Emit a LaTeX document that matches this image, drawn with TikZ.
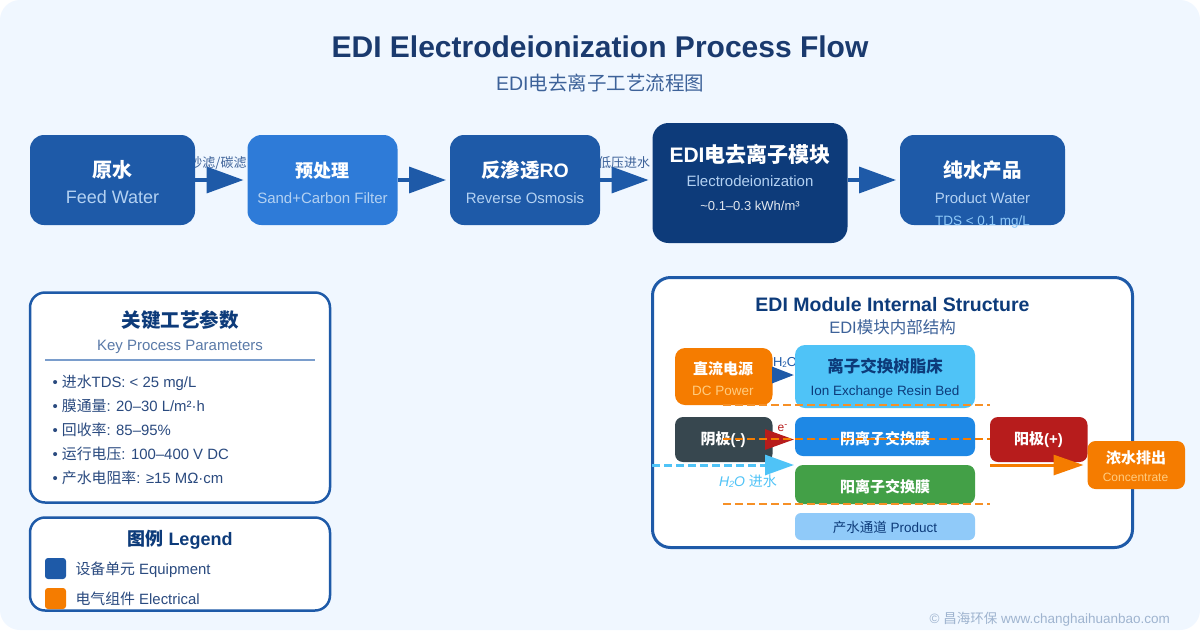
\documentclass[tikz,border=0pt]{standalone}
\usepackage{fontspec}
\usetikzlibrary{arrows.meta}
\setmainfont{Liberation Sans}
\newfontfamily\cjk{Noto Sans CJK SC}
\newcommand{\cn}[1]{{\cjk #1}}
\newcommand{\fs}[1]{\fontsize{#1}{#1}\selectfont}
\newcounter{txc}
% \tx[style]{x}{y}{size}{text}
\newcommand{\tx}[5][]{\stepcounter{txc}\node[lab,#1,name=t\arabic{txc}] at (#2,#3) {\fs{#4}#5};}
% \bx{name}{cx}{cy}{w}{h}{r}{colour}
\newcommand{\bx}[7]{\node[boxn,minimum width=#4pt,minimum height=#5pt,rounded corners=#6pt,fill=#7] (#1) at (#2,#3) {};}
\definecolor{bg}{HTML}{F0F7FF}
\definecolor{cmain}{HTML}{1E5AA8}
\definecolor{cmid}{HTML}{2E7BD8}
\definecolor{cdark}{HTML}{0D3B7A}
\definecolor{ctitle}{HTML}{1A3A6E}
\definecolor{csub}{HTML}{3D6299}
\definecolor{clight}{HTML}{B3D1F2}
\definecolor{corange}{HTML}{F57C00}
\definecolor{csky}{HTML}{4FC3F7}
\definecolor{cred}{HTML}{B71C1C}
\definecolor{cslate}{HTML}{37474F}
\definecolor{cblue}{HTML}{1E88E5}
\definecolor{cgreen}{HTML}{43A047}
\definecolor{cpale}{HTML}{90CAF9}
\definecolor{cpeach}{HTML}{FFCC80}
\definecolor{ctext}{HTML}{2A4A7F}
\definecolor{cfoot}{HTML}{9FB4CF}
\definecolor{crule}{HTML}{7A9DCC}
\tikzset{
  lab/.style={inner sep=0pt,outer sep=0pt,anchor=base,align=center},
  left lab/.style={anchor=base west},
  right lab/.style={anchor=base east},
  boxn/.style={inner sep=0pt,outer sep=0pt,draw=none},
  panel/.style={fill=white,draw=cmain,line width=2.5pt,rounded corners=15pt},
  flow/.style={draw=cmain,line width=3.5pt,-{Triangle[length=37pt,width=26pt]},shorten >=4pt},
  dcarrow/.style={draw=cmain,line width=3pt,-{Triangle[length=22pt,width=16pt]}},
  redarrow/.style={draw=cred,line width=3pt,-{Triangle[length=29pt,width=20pt]}},
  feedarrow/.style={draw=csky,line width=3pt,dash pattern=on 8pt off 4pt,-{Triangle[length=29pt,width=20pt]}},
  concarrow/.style={draw=corange,line width=3pt,-{Triangle[length=30pt,width=20pt]},shorten >=4pt},
  cdash/.style={draw=corange!85!white,line width=1.5pt,dash pattern=on 8pt off 4pt},
  cdash mid/.style={cdash,draw=corange,line width=2pt},
}
\begin{document}
\begin{tikzpicture}[x=1pt,y=-1pt]
\useasboundingbox (0,0) rectangle (1200,630);
\fill[white] (0,0) rectangle (1200,630);
\fill[bg,rounded corners=20pt] (0,0) rectangle (1200,630);
% titles
\tx[text=ctitle,font=\bfseries]{600}{57}{30}{EDI Electrodeionization Process Flow}
\tx[text=csub]{600}{90}{19.5}{EDI\cn{电去离子工艺流程图}}
% labels behind the boxes
\tx[text=csub]{218}{167.5}{13}{\cn{砂滤/碳滤}}
\tx[text=csub]{624}{167.5}{13}{\cn{低压进水}}
% process boxes
\bx{feed}{112.5}{180}{165}{90}{14}{cmain}
\bx{pre}{322.5}{180}{150}{90}{14}{cmid}
\bx{ro}{525}{180}{150}{90}{14}{cmain}
\bx{edi}{750}{183}{195}{120}{16}{cdark}
\bx{prod}{982.5}{180}{165}{90}{14}{cmain}
\tx[text=white,font=\bfseries]{112.5}{177}{20}{\cn{原水}}
\tx[text=clight]{112.5}{203}{18}{Feed Water}
\tx[text=white,font=\bfseries]{322.5}{177}{18}{\cn{预处理}}
\tx[text=clight]{322.5}{203}{15}{Sand+Carbon Filter}
\tx[text=white,font=\bfseries]{525}{177}{19.5}{\cn{反渗透}RO}
\tx[text=clight]{525}{203}{15}{Reverse Osmosis}
\tx[text=white,font=\bfseries]{750}{162}{21}{EDI\cn{电去离子模块}}
\tx[text=clight]{750}{186.5}{15}{Electrodeionization}
\tx[text=white!88!cdark]{750}{210}{13}{\textasciitilde 0.1–0.3 kWh/m³}
\tx[text=white,font=\bfseries]{982.5}{177}{19.5}{\cn{纯水产品}}
\tx[text=clight]{982.5}{203}{15}{Product Water}
\tx[text=cpale]{982.5}{225}{13.5}{TDS < 0.1 mg/L}
% flow arrows
\draw[flow] (feed.east) -- (pre.west);
\draw[flow] (pre.east) -- (ro.west);
\draw[flow] (ro.east) -- ([yshift=3pt]edi.west);
\draw[flow] ([yshift=3pt]edi.east) -- (prod.west);
% parameters panel
\node[boxn,panel,minimum width=300pt,minimum height=210pt] (params) at (180,397.5) {};
\tx[text=cdark,font=\bfseries]{180}{327}{19.5}{\cn{关键工艺参数}}
\tx[text=csub!85!white]{180}{350}{15}{Key Process Parameters}
\coordinate (ruleL) at (45,360);
\coordinate (ruleR) at (315,360);
\draw[crule,line width=2pt] (ruleL) -- (ruleR);
\tx[left lab,text=ctext]{52.5}{387}{14.9}{• \cn{进水}TDS: < 25 mg/L}
\tx[left lab,text=ctext]{52.5}{411}{14.9}{• \cn{膜通量}: 20–30 L/m²·h}
\tx[left lab,text=ctext]{52.5}{435}{14.9}{• \cn{回收率}: 85–95\%}
\tx[left lab,text=ctext]{52.5}{459}{14.9}{• \cn{运行电压}: 100–400 V DC}
\tx[left lab,text=ctext]{52.5}{483}{14.9}{• \cn{产水电阻率}: ≥15 MΩ·cm}
% legend panel
\node[boxn,panel,minimum width=300pt,minimum height=93pt] (legend) at (180,564) {};
\tx[text=cdark,font=\bfseries]{180}{545}{18}{\cn{图例} Legend}
\bx{swA}{55.5}{568.5}{21}{21}{3}{cmain}
\bx{swB}{55.5}{598.5}{21}{21}{3}{corange}
\tx[left lab,text=ctext]{75.5}{574}{14.9}{\cn{设备单元} Equipment}
\tx[left lab,text=ctext]{75.5}{604}{14.9}{\cn{电气组件} Electrical}
% module panel
\node[boxn,fill=white,draw=cmain,line width=3pt,rounded corners=18pt,minimum width=480pt,minimum height=270pt] (module) at (892.5,412.5) {};
\tx[text=cdark,font=\bfseries]{892.5}{311}{19.5}{EDI Module Internal Structure}
\tx[text=csub]{892.5}{333}{16.5}{EDI\cn{模块内部结构}}
\tx[text=cmain]{785}{366.5}{13}{H\fs{8}\raisebox{-1pt}{2}\fs{13}O}
\tx[text=cred]{782.5}{431}{12}{e\raisebox{4pt}{\fs{9}-}}
\bx{dc}{723.75}{376.5}{97.5}{57}{10}{corange}
\bx{resin}{885}{376.5}{180}{63}{10}{csky}
\bx{cathode}{723.75}{439.5}{97.5}{45}{8}{cslate}
\bx{anion}{885}{436.5}{180}{39}{8}{cblue}
\bx{cation}{885}{484.5}{180}{39}{8}{cgreen}
\bx{channel}{885}{526.5}{180}{27}{6}{cpale}
\bx{anode}{1038.75}{439.5}{97.5}{45}{8}{cred}
\bx{conc}{1136.25}{465}{97.5}{48}{8}{corange}
\tx[text=white,font=\bfseries]{723}{374.5}{15}{\cn{直流电源}}
\tx[text=cpeach]{723}{395}{13.5}{DC Power}
\tx[text=cdark,font=\bfseries]{885}{372}{16.5}{\cn{离子交换树脂床}}
\tx[text=cdark]{885}{395}{13.5}{Ion Exchange Resin Bed}
\tx[text=white,font=\bfseries]{723}{444}{15}{\cn{阴极}(-)}
\tx[text=white,font=\bfseries]{885}{444}{15}{\cn{阴离子交换膜}}
\tx[text=white,font=\bfseries]{885}{492}{15}{\cn{阳离子交换膜}}
\tx[text=cdark]{885}{532}{13.5}{\cn{产水通道} Product}
\tx[text=white,font=\bfseries]{1038.5}{444}{15}{\cn{阳极}(+)}
\tx[text=white,font=\bfseries]{1136}{463.5}{15}{\cn{浓水排出}}
\tx[text=cpeach]{1135.5}{481}{12}{Concentrate}
\tx[text=csky,font=\itshape]{748}{486}{14}{H\fs{9}\raisebox{-1pt}{2}\fs{14}O \cn{进水}}
% module arrows
\draw[dcarrow] ([yshift=1.5pt]dc.east) -- ([yshift=1.5pt,xshift=-1pt]resin.west);
\coordinate (anionIn) at (anion.west |- cathode.east);
\draw[redarrow] (cathode.east) -- ([xshift=-1pt]anionIn);
\coordinate (feedIn) at (652,465);
\draw[feedarrow] (feedIn) -- ([xshift=-1pt]cation.north west);
\draw[concarrow] ([yshift=-3pt]anode.south west) -- (conc.west);
% dashed electrode lines
\coordinate (dA) at (723,405);
\coordinate (dB) at (990,405);
\coordinate (dC) at (723,439);
\coordinate (dD) at (990,439);
\coordinate (dE) at (723,504);
\coordinate (dF) at (990,504);
\draw[cdash] (dA) -- (dB);
\draw[cdash mid] (dC) -- (dD);
\draw[cdash] (dE) -- (dF);
% footer
\tx[right lab,text=cfoot]{1170}{623}{13.5}{© \cn{昌海环保} www.changhaihuanbao.com}
\end{tikzpicture}
\end{document}
